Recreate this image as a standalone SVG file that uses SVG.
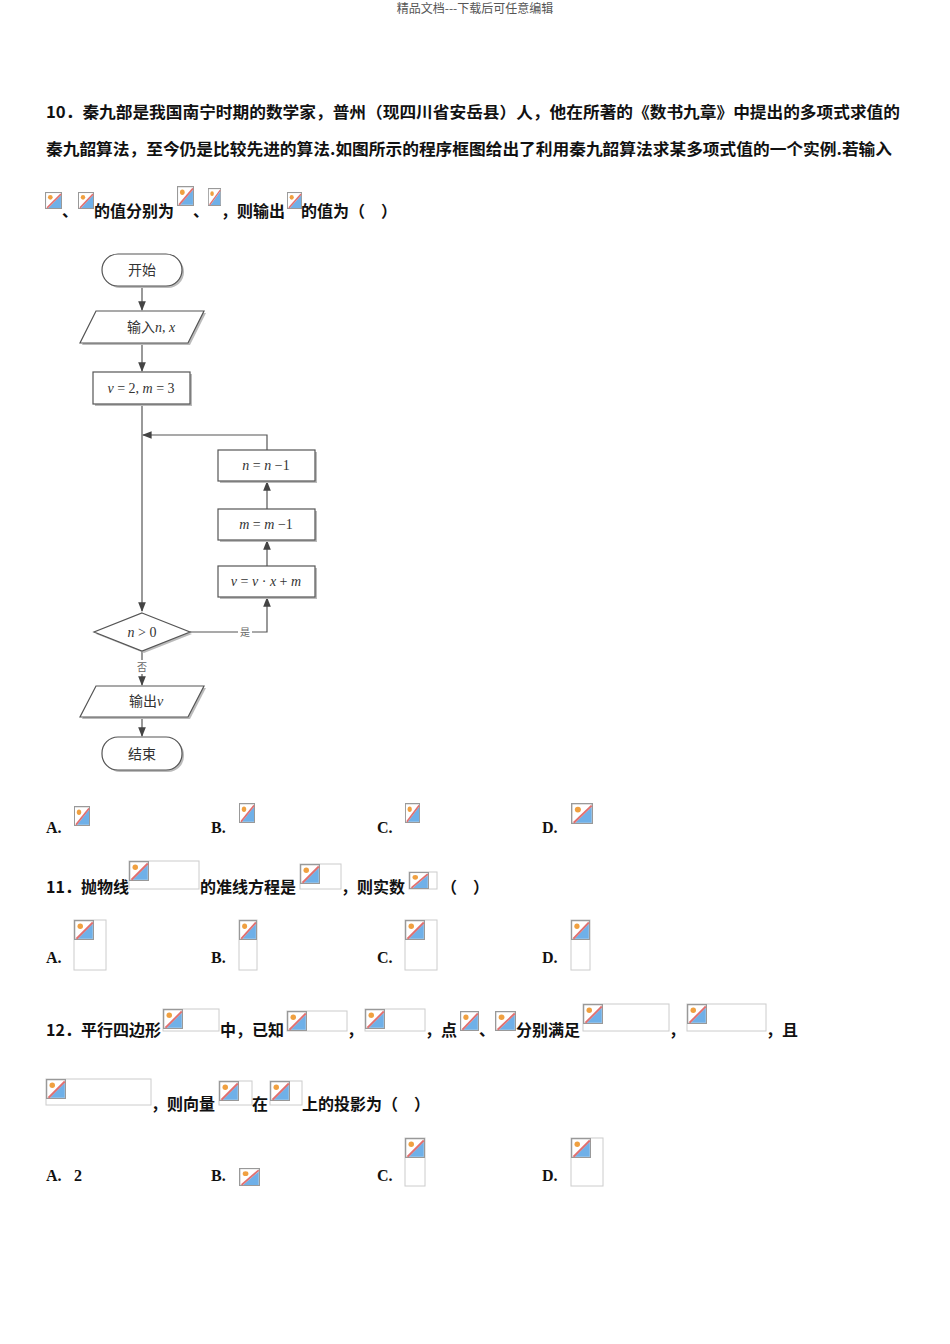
<svg xmlns="http://www.w3.org/2000/svg" width="950" height="1344" viewBox="0 0 950 1344">
<style>
.t{font-family:"Noto Sans CJK SC",sans-serif;font-size:16px;font-weight:bold;fill:#111}
.o{font-family:"Liberation Serif","Noto Sans CJK SC",serif;font-size:16px;font-weight:bold;fill:#111}
.f{font-family:"Liberation Serif","Noto Sans CJK SC",serif;font-size:14px;fill:#333;text-anchor:middle}
.s{fill:#fff;stroke:#555;stroke-width:1.2}
.sh{fill:#bbb}
.b{fill:none;stroke:#ccc;stroke-width:1}
.l{fill:none;stroke:#555;stroke-width:1.2}
</style>
<defs>
<symbol id="ic" viewBox="0 0 16 16" preserveAspectRatio="none">
<rect x="0.5" y="0.5" width="15" height="15" fill="#fff" stroke="#999"/>
<path d="M15 3 L15 15 L3 15 Z" fill="#6fb0e8"/>
<path d="M2 15 L15 2" stroke="#e07070" stroke-width="1.5"/>
<circle cx="5" cy="5" r="2.2" fill="#f0a040"/>
</symbol>
<marker id="a" viewBox="0 0 10 10" refX="9" refY="5" markerWidth="8" markerHeight="8" orient="auto"><path d="M0 1 L10 5 L0 9 Z" fill="#444"/></marker>
</defs>
<rect width="950" height="1344" fill="#fff"/>
<text x="475" y="13" text-anchor="middle" font-family="Noto Sans CJK SC,sans-serif" font-size="12" fill="#555">精品文档---下载后可任意编辑</text>

<text class="t" x="46" y="118" textLength="854" lengthAdjust="spacingAndGlyphs">10．秦九部是我国南宁时期的数学家，普州（现四川省安岳县）人，他在所著的《数书九章》中提出的多项式求值的</text>
<text class="t" x="46" y="155" textLength="846" lengthAdjust="spacingAndGlyphs">秦九韶算法，至今仍是比较先进的算法.如图所示的程序框图给出了利用秦九韶算法求某多项式值的一个实例.若输入</text>
<use href="#ic" x="45" y="192" width="17" height="17"/>
<text class="t" x="62" y="217">、</text>
<use href="#ic" x="78" y="192" width="16" height="17"/>
<text class="t" x="94" y="217">的值分别为</text>
<use href="#ic" x="177" y="186" width="17" height="20"/>
<text class="t" x="193" y="217">、</text>
<use href="#ic" x="208" y="188" width="13" height="18"/>
<text class="t" x="221" y="217">，则输出</text>
<use href="#ic" x="287" y="192" width="15" height="17"/>
<text class="t" x="301" y="217">的值为（　）</text>

<g id="connectors">
<line class="l" x1="142" y1="286" x2="142" y2="310" marker-end="url(#a)"/>
<line class="l" x1="142" y1="343" x2="142" y2="371" marker-end="url(#a)"/>
<line class="l" x1="142" y1="404" x2="142" y2="611" marker-end="url(#a)"/>
<polyline class="l" points="267,450 267,435 143,435" marker-end="url(#a)"/>
<line class="l" x1="267" y1="509" x2="267" y2="482" marker-end="url(#a)"/>
<line class="l" x1="267" y1="566" x2="267" y2="541" marker-end="url(#a)"/>
<polyline class="l" points="190,632 267,632 267,598" marker-end="url(#a)"/>
<line class="l" x1="142" y1="651" x2="142" y2="685" marker-end="url(#a)"/>
<line class="l" x1="142" y1="717" x2="142" y2="736" marker-end="url(#a)"/>
<rect x="238" y="625" width="14" height="14" fill="#fff"/>
<text x="245" y="636" font-family="Noto Sans CJK SC,sans-serif" font-size="10" fill="#666" text-anchor="middle">是</text>
<rect x="135" y="660" width="14" height="14" fill="#fff"/>
<text x="142" y="671" font-family="Noto Sans CJK SC,sans-serif" font-size="10" fill="#666" text-anchor="middle">否</text>
</g>
<g id="start"><rect class="sh" x="104" y="256" width="80" height="32" rx="16"/><rect class="s" x="102" y="254" width="80" height="32" rx="16"/><text class="f" x="142" y="275" font-family="Noto Sans CJK SC,sans-serif">开始</text></g>
<g id="input"><path class="sh" d="M98 313 L206 313 L190 345 L82 345 Z"/><path class="s" d="M96 311 L204 311 L188 343 L80 343 Z"/><text class="f" x="151" y="332">输入<tspan font-style="italic">n</tspan>, <tspan font-style="italic">x</tspan></text></g>
<g id="init"><rect class="sh" x="95" y="374" width="97" height="32"/><rect class="s" x="93" y="372" width="97" height="32"/><text class="f" x="141" y="393"><tspan font-style="italic">v</tspan> = 2, <tspan font-style="italic">m</tspan> = 3</text></g>
<g id="n1"><rect class="sh" x="220" y="452" width="97" height="31"/><rect class="s" x="218" y="450" width="97" height="31"/><text class="f" x="266" y="470"><tspan font-style="italic">n</tspan> = <tspan font-style="italic">n</tspan> −1</text></g>
<g id="m1"><rect class="sh" x="220" y="511" width="97" height="31"/><rect class="s" x="218" y="509" width="97" height="31"/><text class="f" x="266" y="529"><tspan font-style="italic">m</tspan> = <tspan font-style="italic">m</tspan> −1</text></g>
<g id="vx"><rect class="sh" x="220" y="568" width="97" height="31"/><rect class="s" x="218" y="566" width="97" height="31"/><text class="f" x="266" y="586"><tspan font-style="italic">v</tspan> = <tspan font-style="italic">v</tspan> · <tspan font-style="italic">x</tspan> + <tspan font-style="italic">m</tspan></text></g>
<g id="cond"><path class="sh" d="M144 615 L192 634 L144 653 L96 634 Z"/><path class="s" d="M142 613 L190 632 L142 651 L94 632 Z"/><text class="f" x="142" y="637"><tspan font-style="italic">n</tspan> &gt; 0</text></g>
<g id="output"><path class="sh" d="M98 688 L206 688 L190 719 L82 719 Z"/><path class="s" d="M96 686 L204 686 L188 717 L80 717 Z"/><text class="f" x="146" y="706" font-family="Noto Sans CJK SC,sans-serif">输出<tspan font-style="italic" font-family="Liberation Serif">v</tspan></text></g>
<g id="end"><rect class="sh" x="104" y="739" width="80" height="33" rx="16"/><rect class="s" x="102" y="737" width="80" height="33" rx="16"/><text class="f" x="142" y="759" font-family="Noto Sans CJK SC,sans-serif">结束</text></g>

<text class="o" x="46" y="833">A.</text><use href="#ic" x="74" y="806" width="16" height="20"/>
<text class="o" x="211" y="833">B.</text><use href="#ic" x="239" y="803" width="16" height="20"/>
<text class="o" x="377" y="833">C.</text><use href="#ic" x="405" y="803" width="15" height="20"/>
<text class="o" x="542" y="833">D.</text><use href="#ic" x="571" y="803" width="22" height="21"/>

<text class="t" x="46" y="893">11．抛物线</text>
<rect class="b" x="129" y="861" width="70" height="28"/><use href="#ic" x="129" y="861" width="20" height="20"/>
<text class="t" x="200" y="893">的准线方程是</text>
<rect class="b" x="300" y="864" width="41" height="25"/><use href="#ic" x="300" y="864" width="20" height="20"/>
<text class="t" x="341" y="893">，则实数</text>
<rect class="b" x="409" y="872" width="28" height="17"/><use href="#ic" x="409" y="872" width="20" height="17"/>
<text class="t" x="441" y="893">（　）</text>

<text class="o" x="46" y="963">A.</text><rect class="b" x="74" y="920" width="32" height="50"/><use href="#ic" x="74" y="920" width="20" height="20"/>
<text class="o" x="211" y="963">B.</text><rect class="b" x="239" y="920" width="18" height="50"/><use href="#ic" x="239" y="920" width="18" height="20"/>
<text class="o" x="377" y="963">C.</text><rect class="b" x="405" y="920" width="32" height="50"/><use href="#ic" x="405" y="920" width="20" height="20"/>
<text class="o" x="542" y="963">D.</text><rect class="b" x="571" y="920" width="19" height="50"/><use href="#ic" x="571" y="920" width="19" height="20"/>

<text class="t" x="46" y="1036">12．平行四边形</text>
<rect class="b" x="163" y="1009" width="56" height="22"/><use href="#ic" x="163" y="1009" width="20" height="20"/>
<text class="t" x="220" y="1036">中，已知</text>
<rect class="b" x="287" y="1011" width="60" height="20"/><use href="#ic" x="287" y="1011" width="20" height="20"/>
<text class="t" x="347" y="1036">，</text>
<rect class="b" x="365" y="1009" width="60" height="22"/><use href="#ic" x="365" y="1009" width="20" height="20"/>
<text class="t" x="425" y="1036">，点</text>
<use href="#ic" x="460" y="1011" width="19" height="20"/>
<text class="t" x="479" y="1036">、</text>
<use href="#ic" x="495" y="1011" width="21" height="20"/>
<text class="t" x="516" y="1036">分别满足</text>
<rect class="b" x="583" y="1004" width="86" height="27"/><use href="#ic" x="583" y="1004" width="20" height="20"/>
<text class="t" x="669" y="1036">，</text>
<rect class="b" x="687" y="1004" width="79" height="27"/><use href="#ic" x="687" y="1004" width="20" height="20"/>
<text class="t" x="766" y="1036">，且</text>

<rect class="b" x="46" y="1079" width="105" height="26"/><use href="#ic" x="46" y="1079" width="20" height="20"/>
<text class="t" x="151" y="1110">，则向量</text>
<rect class="b" x="219" y="1081" width="33" height="24"/><use href="#ic" x="219" y="1081" width="20" height="20"/>
<text class="t" x="252" y="1110">在</text>
<rect class="b" x="270" y="1081" width="32" height="24"/><use href="#ic" x="270" y="1081" width="20" height="20"/>
<text class="t" x="302" y="1110">上的投影为（　）</text>

<text class="o" x="46" y="1181">A.</text><text class="o" x="74" y="1181">2</text>
<text class="o" x="211" y="1181">B.</text><use href="#ic" x="239" y="1168" width="21" height="18"/>
<text class="o" x="377" y="1181">C.</text><rect class="b" x="405" y="1138" width="20" height="48"/><use href="#ic" x="405" y="1138" width="20" height="20"/>
<text class="o" x="542" y="1181">D.</text><rect class="b" x="571" y="1138" width="32" height="48"/><use href="#ic" x="571" y="1138" width="20" height="20"/>
</svg>
